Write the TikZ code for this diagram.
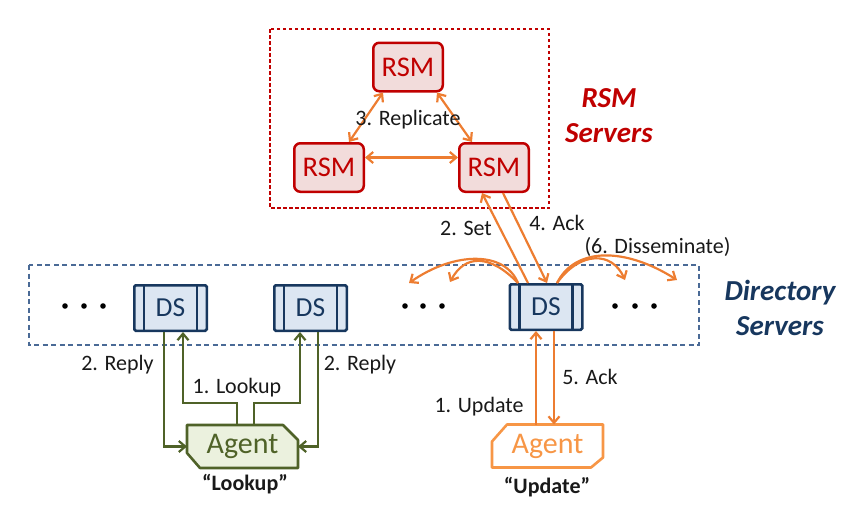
\documentclass[tikz,border=0pt]{standalone}
\usepackage{fontspec}
\setmainfont{Carlito}
\usetikzlibrary{arrows.meta,backgrounds}
\definecolor{rsmred}{RGB}{192,0,0}
\definecolor{rsmfill}{RGB}{242,220,219}
\definecolor{orng}{RGB}{237,125,49}
\definecolor{lorng}{RGB}{247,150,70}
\definecolor{grn}{RGB}{79,98,40}
\definecolor{agfill}{RGB}{235,241,222}
\definecolor{navy}{RGB}{23,55,94}
\definecolor{dsfill}{RGB}{220,230,242}
\definecolor{boxblue}{RGB}{74,106,150}
\begin{document}
\begin{tikzpicture}[x=1pt,y=-1pt,
  rsm/.style={draw=rsmred, line width=2.5pt, fill=rsmfill, rounded corners=6pt,
    minimum width=69.5pt, minimum height=48.5pt, inner sep=0pt, text=rsmred,
    font=\fontsize{28.5}{30}\selectfont},
  dsbox/.style={draw=navy, line width=2.5pt, fill=dsfill, rounded corners=1.5pt,
    minimum width=72.5pt, minimum height=45.5pt, inner sep=0pt, text=navy,
    font=\fontsize{27.5}{28}\selectfont},
  agtxt/.style={minimum width=111pt, minimum height=43pt, inner sep=0pt, outer sep=0pt,
    font=\fontsize{30}{30}\selectfont},
  lbl/.style={font=\fontsize{22}{24}\selectfont, inner sep=0pt, text=black!90},
  captxt/.style={font=\fontsize{22}{24}\selectfont\bfseries, inner sep=0pt, text=black!90},
  title/.style={font=\fontsize{29}{35}\selectfont\bfseries\itshape, align=center, inner sep=0pt},
  oarrow/.style={draw=orng, line width=2.2pt, -{Straight Barb[length=6.5pt,width=11pt]}},
  odarrow/.style={draw=orng, line width=2.2pt, {Straight Barb[length=6.5pt,width=11pt]}-{Straight Barb[length=6.5pt,width=11pt]}},
  garrow/.style={draw=grn, line width=2.2pt, -{Straight Barb[length=6.5pt,width=11pt]}},
  bar/.style={draw=navy, line width=2.5pt},
  dot/.style={fill=black}
]
\useasboundingbox (0,0) rectangle (848,504);

% group boxes
\draw[rsmred, line width=1.3pt, dash pattern=on 3.5pt off 2.5pt] (270,29) rectangle (549,208);
\draw[boxblue, line width=1.5pt, dash pattern=on 5pt off 3.5pt] (29,265) rectangle (699,345);

% RSM servers
\node[rsm] (rT) at (408,67) {RSM};
\node[rsm] (rL) at (329,167.5) {RSM};
\node[rsm] (rR) at (494,167.5) {RSM};

% directory servers
\node[dsbox] (d1) at (170.5,308) {DS};
\node[dsbox] (d2) at (310.5,308) {DS};
\node[dsbox] (d3) at (546,307) {DS};
\foreach \n in {d1,d2,d3}{
  \draw[bar] ([xshift=11pt]\n.north west) -- ([xshift=11pt]\n.south west);
  \draw[bar] ([xshift=-11pt]\n.north east) -- ([xshift=-11pt]\n.south east);
}

% dots
\foreach \x in {65,84,103,405,423,442,615,635,654}{
  \fill[dot] (\x,306) circle (2.8pt);
}

% agents
\node[agtxt, text=grn] (agL) at (242.5,446.5) {Agent};
\node[agtxt, text=lorng] (agU) at (547.5,446) {Agent};
\begin{scope}[on background layer]
\draw[grn, line width=2.6pt, fill=agfill, line join=round]
  (agL.north west) -- ([xshift=-15pt]agL.north east) -- ([yshift=-15pt]agL.north east)
  -- (agL.south east) -- ([xshift=13pt]agL.south west) -- ([yshift=15pt]agL.south west) -- cycle;
\draw[lorng, line width=2.6pt, fill=white, line join=round]
  ([xshift=15pt]agU.north west) -- (agU.north east) -- ([yshift=10pt]agU.south east)
  -- ([xshift=-12pt]agU.south east) -- (agU.south west) -- ([yshift=-17pt]agU.north west) -- cycle;
\end{scope}
\node[captxt] (capL) at (245,484) {“Lookup”};
\node[captxt] (capU) at (547,487) {“Update”};

% titles
\node[title, text=rsmred] (tR) at (609,116) {RSM\\Servers};
\node[title, text=navy] (tD) at (780,308) {Directory\\Servers};

% replicate
\draw[odarrow] ([xshift=11pt]rT.south west) -- ([xshift=-16pt]rL.north east);
\draw[odarrow] ([xshift=-7pt]rT.south east) -- ([xshift=14pt]rR.north west);
\draw[odarrow] ([yshift=10pt]rL.east) -- ([yshift=10pt]rR.west);
\node[lbl] (lRep) at (408,120) {3. Replicate};

% set / ack
\draw[oarrow] ([xshift=-18pt]d3.north) -- ([xshift=-12pt]rR.south);
\draw[oarrow] ([xshift=9pt]rR.south) -- ([xshift=1pt]d3.north);
\node[lbl] (lSet) at (466,228) {2. Set};
\node[lbl] (lAck) at (557,223) {4. Ack};

% disseminate
\coordinate (sL) at ([xshift=-28pt]d3.north);
\coordinate (sR) at ([xshift=11pt]d3.north);
\coordinate (e1) at (409,283);
\coordinate (e2) at (450,282);
\coordinate (e3) at (625,280);
\coordinate (e4) at (677,280);
\draw[oarrow] (sL) .. controls (505,251) and (455,251) .. (e1);
\draw[oarrow] (sL) .. controls (490,254) and (465,254) .. (e2);
\draw[oarrow] (sR) .. controls (580,251) and (612,251) .. (e3);
\draw[oarrow] (sR) .. controls (575,247) and (625,247) .. (e4);
\node[lbl] (lDis) at (657.5,247) {(6. Disseminate)};

% update agent
\draw[oarrow] ([xshift=-11.5pt]agU.north) -- ([xshift=-10pt]d3.south);
\draw[oarrow] ([xshift=8pt]d3.south) -- ([xshift=6.5pt]agU.north);
\node[lbl] (lUpd) at (479,407) {1. Update};
\node[lbl] (lAck5) at (590,377) {5. Ack};

% lookup agent
\draw[garrow] ([xshift=-6.5pt]d1.south) |- (agL.west);
\draw[garrow] ([xshift=-5.5pt]agL.north) -- ++(0,-22) -| ([xshift=12.5pt]d1.south);
\draw[garrow] ([xshift=11.5pt]agL.north) -- ++(0,-22) -| ([xshift=-10.5pt]d2.south);
\draw[garrow] ([xshift=7.5pt]d2.south) |- (agL.east);
\node[lbl] (lRp1) at (117.5,365) {2. Reply};
\node[lbl] (lLk) at (237,388) {1. Lookup};
\node[lbl] (lRp2) at (360,365) {2. Reply};
\end{tikzpicture}
\end{document}
